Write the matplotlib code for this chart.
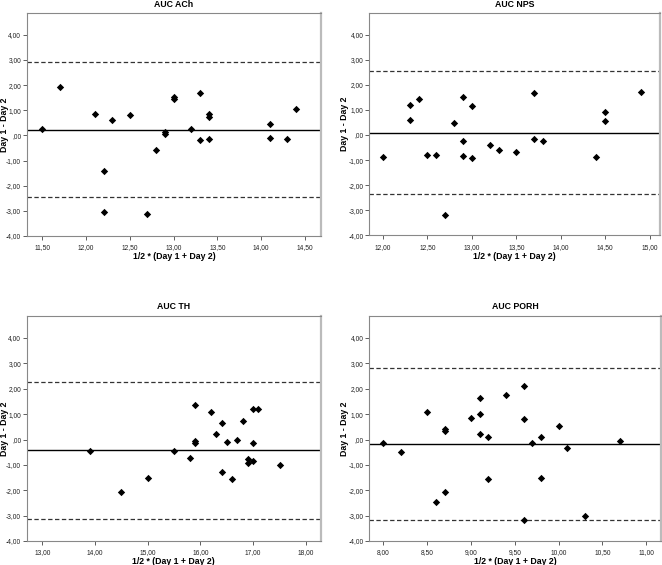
import matplotlib
matplotlib.use("Agg")
import matplotlib.pyplot as plt
from matplotlib.ticker import FuncFormatter, MultipleLocator

plt.rcParams['font.family'] = ['Liberation Sans', 'DejaVu Sans']

titles = ["AUC ACh", "AUC NPS", "AUC TH", "AUC PORH"]

ach_x = [11.5, 11.7, 12.1, 12.3, 12.5, 12.2, 12.2, 12.7, 12.8, 12.9, 12.9, 13.0, 13.0,
         13.2, 13.3, 13.3, 13.4, 13.4, 13.4, 14.1, 14.1, 14.3, 14.4]
ach_y = [0.25, 1.94, 0.86, 0.60, 0.82, -1.42, -3.06, -3.12, -0.58, 0.13, 0.05, 1.54, 1.46,
         0.24, 1.67, -0.20, 0.85, 0.73, -0.13, 0.44, -0.11, -0.13, 1.07]

nps_x = [12.0, 12.3, 12.3, 12.4, 12.5, 12.6, 12.8, 12.9, 12.9, 12.9, 13.0, 13.0, 12.7,
         13.2, 13.3, 13.5, 13.7, 13.7, 13.8, 14.4, 14.5, 14.5, 14.9]
nps_y = [-0.88, 1.18, 0.60, 1.42, -0.78, -0.78, 0.49, 1.51, -0.23, -0.82, 1.17, -0.90, -3.21,
         -0.39, -0.61, -0.69, 1.67, -0.15, -0.25, -0.86, 0.93, 0.54, 1.70]

th_x = [13.9, 14.5, 15.0, 15.5, 15.8, 15.9, 15.9, 15.9, 16.2, 16.3, 16.4, 16.4, 16.5,
        16.6, 16.7, 16.8, 16.9, 16.9, 17.0, 17.0, 17.0, 17.1, 17.5]
th_y = [-0.47, -2.08, -1.53, -0.45, -0.74, 1.37, -0.05, -0.15, 1.07, 0.21, 0.66, -1.28, -0.11,
        -1.54, -0.01, 0.74, -0.75, -0.91, 1.19, -0.13, -0.84, 1.21, -1.00]

porh_x = [8.0, 8.2, 8.5, 8.6, 8.7, 8.7, 8.7, 9.0, 9.1, 9.1, 9.1, 9.2, 9.2, 9.4, 9.6, 9.6,
          9.6, 9.7, 9.8, 9.8, 10.0, 10.1, 10.3, 10.7]
porh_y = [-0.12, -0.49, 1.08, -2.46, 0.42, 0.32, -2.07, 0.84, 1.63, 1.01, 0.20, 0.11, -1.55,
          1.77, 2.10, 0.81, -3.17, -0.15, 0.08, -1.53, 0.54, -0.35, -3.03, -0.04]

mean_lines = [0.225, 0.09, -0.42, -0.17]
upper_lines = [2.90, 2.55, 2.27, 2.83]
lower_lines = [-2.44, -2.35, -3.15, -3.19]

xlims = [(11.325, 14.683), (11.846, 15.12), (12.71, 18.28), (7.84, 11.163)]
xsteps = [0.5, 0.5, 1.0, 0.5]
ylim = (-4.0, 4.88)

xs = [ach_x, nps_x, th_x, porh_x]
ys = [ach_y, nps_y, th_y, porh_y]

W, H = 662, 565
fig = plt.figure(figsize=(W / 100, H / 100), dpi=100)

# axes boxes in pixels: left, right, top, bottom
boxes = [(27, 321, 12.7, 236), (369.3, 660.3, 12.7, 235.3),
         (27, 320.7, 315.7, 541), (369.3, 660.5, 315.7, 541)]
ylabel_px = [5, 344.3, 5, 344.3]
xlabel_off = [21, 21, 20, 20]
title_off = [8, 8, 9, 9]


def fmt(v, pos):
    if abs(v) < 1e-9:
        return ",00"
    return f"{v:.2f}".replace(".", ",")


for i in range(4):
    l, r, t, b = boxes[i]
    w, h = r - l, b - t
    ax = fig.add_axes([l / W, 1 - b / H, w / W, h / H])
    ax.scatter(xs[i], ys[i], marker='D', s=14, color='black', zorder=3, linewidths=0)
    ax.axhline(mean_lines[i], color='black', lw=1.0, zorder=2)
    ax.axhline(upper_lines[i], color='#333333', lw=0.9, ls=(0, (3.5, 2)), zorder=2)
    ax.axhline(lower_lines[i], color='#333333', lw=0.9, ls=(0, (3.5, 2)), zorder=2)
    ax.set_xlim(*xlims[i])
    ax.set_ylim(*ylim)
    ax.yaxis.set_major_locator(MultipleLocator(1.0))
    ax.xaxis.set_major_locator(MultipleLocator(xsteps[i]))
    ax.yaxis.set_major_formatter(FuncFormatter(fmt))
    ax.xaxis.set_major_formatter(FuncFormatter(fmt))
    ax.tick_params(axis='both', direction='out', length=3, width=0.6, labelsize=4.8,
                   color='#444444', pad=1.2, labelcolor='#222222')
    ax.tick_params(axis='x', pad=3)
    for side in ['top', 'left', 'bottom']:
        ax.spines[side].set_color('#888888')
        ax.spines[side].set_linewidth(0.8)
    ax.spines['right'].set_color('#bbbbbb')
    ax.spines['right'].set_linewidth(1.6)
    ax.text(0.5, 1 + title_off[i] / h, titles[i], transform=ax.transAxes,
            ha='center', va='center', fontsize=6.3, fontweight='bold')
    ax.set_xlabel("1/2 * (Day 1 + Day 2)", fontsize=6.3, fontweight='bold')
    ax.set_ylabel("Day 1 - Day 2", fontsize=6.3, fontweight='bold')
    ax.xaxis.set_label_coords(0.5, -xlabel_off[i] / h)
    ax.yaxis.set_label_coords((ylabel_px[i] - l) / w, 0.5)
    ax.xaxis.label.set_va('center')
    ax.yaxis.label.set_va('center')

fig.savefig("out.png", dpi=100)
